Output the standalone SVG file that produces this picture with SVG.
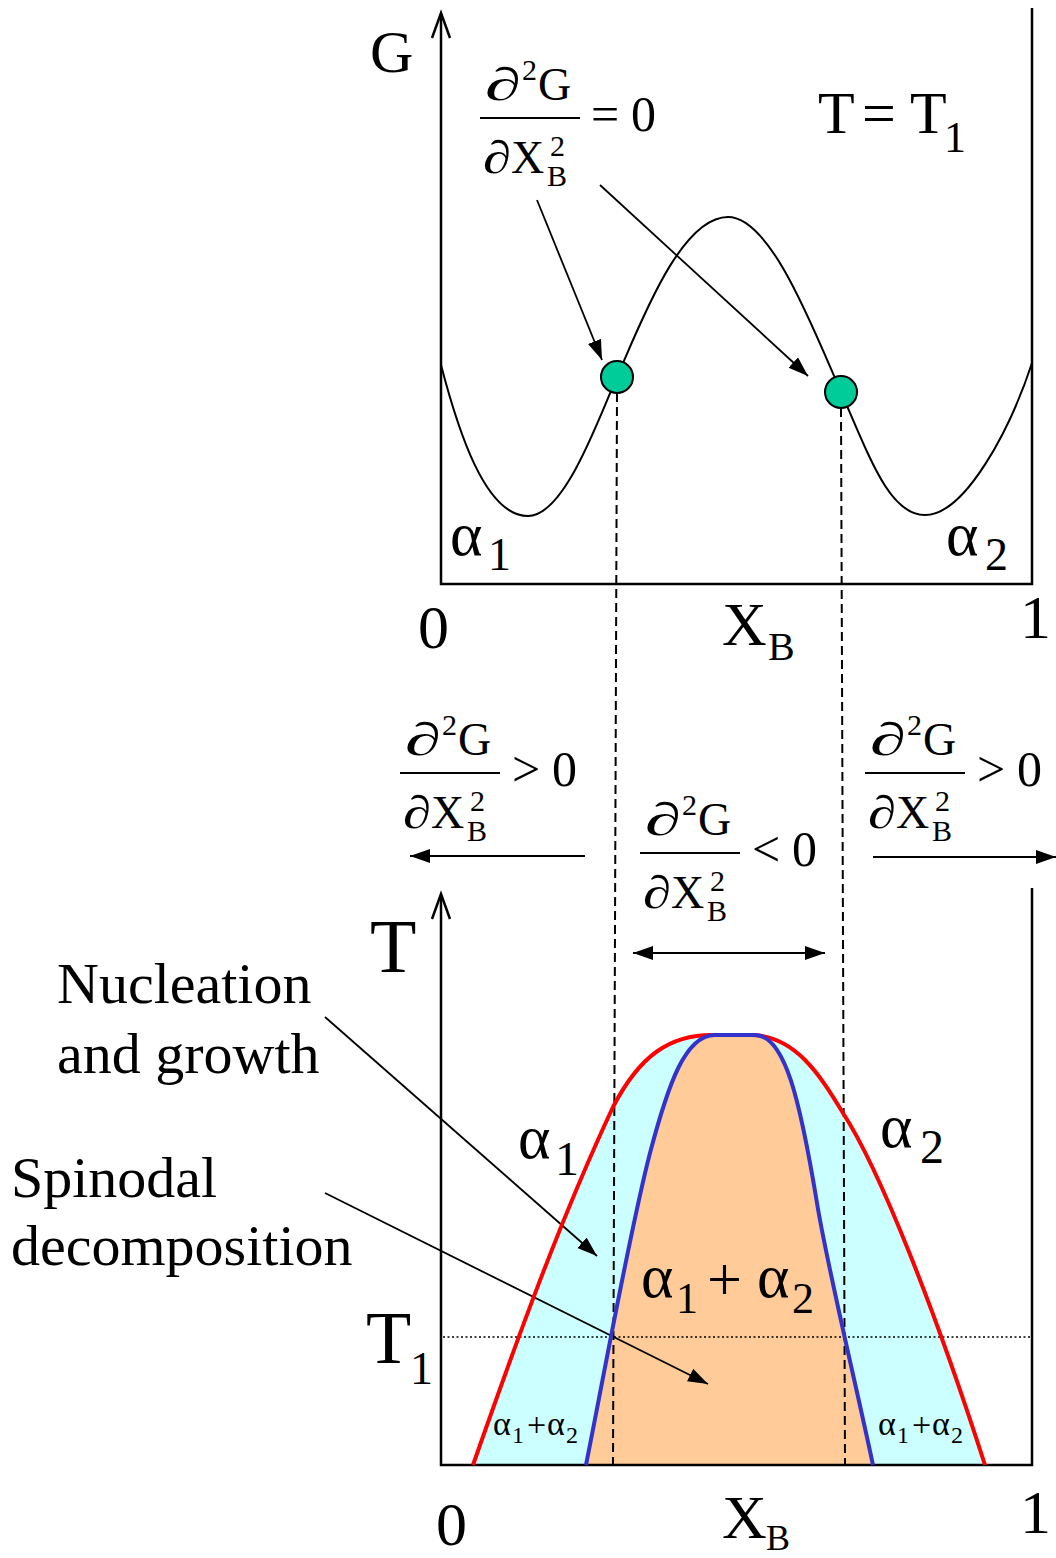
<svg xmlns="http://www.w3.org/2000/svg" width="1056" height="1558" viewBox="0 0 1056 1558">
<style>
.t{font-family:"Liberation Serif","Times New Roman",serif;fill:#000}
.ax{stroke:#000;stroke-width:2.5;fill:none}
.ln{stroke:#000;stroke-width:1.8;fill:none}
.dash{stroke:#000;stroke-width:2;stroke-dasharray:9,5;fill:none}
.f{font-size:46px}
.o{font-size:50px}
.s{font-size:30px}
</style>
<defs>
<marker id="ah" markerUnits="userSpaceOnUse" markerWidth="22" markerHeight="16" refX="20" refY="7" orient="auto-start-reverse">
<path d="M0,0 L20,7 L0,14 z" fill="#000"/>
</marker>
</defs>
<rect width="1056" height="1558" fill="#fff"/>

<!-- bottom plot fills -->
<g id="binodal-region">
<path d="M473,1465 C515,1345 560,1220 613,1107 C640,1055 670,1035 712,1035 L750,1035 C795,1035 820,1075 843,1113 C880,1170 935,1310 985,1465 Z" fill="#CCFFFF"/>
</g>
<g id="spinodal-region">
<path d="M586,1465 C605,1370 630,1230 650,1153 C668,1085 685,1035 715,1035 L755,1035 C785,1035 800,1100 817,1203 C827,1265 855,1380 873,1465 Z" fill="#FFCC99"/>
</g>

<!-- top plot axes -->
<g id="top-axes">
<path class="ax" d="M441,14 L441,584 L1032,584 L1032,8"/>
<path class="ax" d="M432,38 L441,13 L450,38"/>
</g>
<!-- bottom plot axes -->
<g id="bottom-axes">
<path class="ax" d="M441,895 L441,1465 L1032,1465 L1032,888"/>
<path class="ax" d="M432,919 L441,894 L450,919"/>
<line x1="443" y1="1337" x2="1030" y2="1337" stroke="#000" stroke-width="1.3" stroke-dasharray="2,2.5"/>
</g>

<g id="connectors">
<path class="dash" d="M617,393 L613,1465"/>
<path class="dash" d="M841,408 L845,1465"/>
<line class="ln" x1="537" y1="200" x2="602" y2="360" marker-end="url(#ah)"/>
<line class="ln" x1="600" y1="185" x2="808" y2="376" marker-end="url(#ah)"/>
<line class="ln" x1="585" y1="856" x2="410" y2="856" stroke-width="2" marker-end="url(#ah)"/>
<line class="ln" x1="873" y1="857" x2="1056" y2="857" stroke-width="2" marker-end="url(#ah)"/>
<line class="ln" x1="633" y1="953" x2="825" y2="953" stroke-width="2" marker-start="url(#ah)" marker-end="url(#ah)"/>
<line class="ln" x1="325" y1="1017" x2="597" y2="1256" marker-end="url(#ah)"/>
<line class="ln" x1="325" y1="1193" x2="708" y2="1384" marker-end="url(#ah)"/>
</g>

<!-- curves -->
<g id="G-curve">
<path d="M441,365 C458,430 485,516 528,516 C565,516 599,417 617,377 C640,325 680,217 728,217 C770,217 811,323 841,392 C871,461 890,515 925,515 C965,515 1010,430 1032,363" fill="none" stroke="#000" stroke-width="2"/>
</g>
<g id="binodal-curve">
<path d="M473,1465 C515,1345 560,1220 613,1107 C640,1055 670,1035 712,1035 L750,1035 C795,1035 820,1075 843,1113 C880,1170 935,1310 985,1465" fill="none" stroke="#FF0000" stroke-width="4"/>
</g>
<g id="spinodal-curve">
<path d="M586,1465 C605,1370 630,1230 650,1153 C668,1085 685,1035 715,1035 L755,1035 C785,1035 800,1100 817,1203 C827,1265 855,1380 873,1465" fill="none" stroke="#3333CC" stroke-width="4"/>
</g>

<g id="point-left"><circle cx="617" cy="377" r="16" fill="#00CC99" stroke="#000" stroke-width="2"/></g>
<g id="point-right"><circle cx="841" cy="392" r="16" fill="#00CC99" stroke="#000" stroke-width="2"/></g>

<!-- formulas -->
<g id="formula-zero" transform="translate(480,118)">
<text class="t f" x="5" y="-18" textLength="36" lengthAdjust="spacingAndGlyphs">∂</text><text class="t s" x="42" y="-38">2</text><text class="t f" x="58" y="-18">G</text>
<line x1="0" y1="0" x2="100" y2="0" stroke="#000" stroke-width="2"/>
<text class="t f" x="3" y="55" textLength="28" lengthAdjust="spacingAndGlyphs">∂</text><text class="t f" x="31" y="55">X</text><text class="t s" x="70" y="38">2</text><text class="t s" x="67" y="68">B</text>
<text class="t o" x="111" y="13">=</text><text class="t o" x="151" y="13">0</text>
</g>
<g id="formula-left" transform="translate(400,773)">
<text class="t f" x="5" y="-18" textLength="36" lengthAdjust="spacingAndGlyphs">∂</text><text class="t s" x="42" y="-38">2</text><text class="t f" x="58" y="-18">G</text>
<line x1="0" y1="0" x2="100" y2="0" stroke="#000" stroke-width="2"/>
<text class="t f" x="3" y="55" textLength="28" lengthAdjust="spacingAndGlyphs">∂</text><text class="t f" x="31" y="55">X</text><text class="t s" x="70" y="38">2</text><text class="t s" x="67" y="68">B</text>
<text class="t o" x="112" y="13">&gt;</text><text class="t o" x="152" y="13">0</text>
</g>
<g id="formula-right" transform="translate(865,773)">
<text class="t f" x="5" y="-18" textLength="36" lengthAdjust="spacingAndGlyphs">∂</text><text class="t s" x="42" y="-38">2</text><text class="t f" x="58" y="-18">G</text>
<line x1="0" y1="0" x2="100" y2="0" stroke="#000" stroke-width="2"/>
<text class="t f" x="3" y="55" textLength="28" lengthAdjust="spacingAndGlyphs">∂</text><text class="t f" x="31" y="55">X</text><text class="t s" x="70" y="38">2</text><text class="t s" x="67" y="68">B</text>
<text class="t o" x="112" y="13">&gt;</text><text class="t o" x="152" y="13">0</text>
</g>
<g id="formula-mid" transform="translate(640,853)">
<text class="t f" x="5" y="-18" textLength="36" lengthAdjust="spacingAndGlyphs">∂</text><text class="t s" x="42" y="-38">2</text><text class="t f" x="58" y="-18">G</text>
<line x1="0" y1="0" x2="100" y2="0" stroke="#000" stroke-width="2"/>
<text class="t f" x="3" y="55" textLength="28" lengthAdjust="spacingAndGlyphs">∂</text><text class="t f" x="31" y="55">X</text><text class="t s" x="70" y="38">2</text><text class="t s" x="67" y="68">B</text>
<text class="t o" x="112" y="13">&lt;</text><text class="t o" x="152" y="13">0</text>
</g>

<!-- top plot labels -->
<g id="top-labels">
<text class="t" x="370" y="72" font-size="60">G</text>
<text class="t" x="818" y="133" font-size="60">T</text>
<text class="t" x="862" y="133" font-size="60">=</text>
<text class="t" x="910" y="133" font-size="60">T</text>
<text class="t" x="944" y="152" font-size="44">1</text>
<text class="t" x="450" y="555" font-size="62">α</text><text class="t" x="488" y="570" font-size="46">1</text>
<text class="t" x="946" y="555" font-size="62">α</text><text class="t" x="985" y="570" font-size="46">2</text>
<text class="t" x="418" y="648" font-size="62">0</text>
<text class="t" x="722" y="645" font-size="62">X</text><text class="t" x="768" y="660" font-size="40">B</text>
<text class="t" x="1020" y="638" font-size="62">1</text>
</g>

<!-- bottom plot labels -->
<g id="bottom-labels">
<text class="t" x="370" y="972" font-size="76">T</text>
<text class="t" x="366" y="1363" font-size="74">T</text><text class="t" x="410" y="1384" font-size="46">1</text>
<text class="t" x="518" y="1158" font-size="62">α</text><text class="t" x="555" y="1175" font-size="48">1</text>
<text class="t" x="880" y="1147" font-size="62">α</text><text class="t" x="920" y="1163" font-size="48">2</text>
<text class="t" x="641" y="1297" font-size="62">α</text><text class="t" x="676" y="1313" font-size="44">1</text>
<text class="t" x="707" y="1300" font-size="62">+</text>
<text class="t" x="757" y="1297" font-size="62">α</text><text class="t" x="792" y="1313" font-size="44">2</text>
<text class="t" x="493" y="1435" font-size="34">α</text><text class="t" x="512" y="1443" font-size="24">1</text>
<text class="t" x="527" y="1436" font-size="34">+</text>
<text class="t" x="547" y="1435" font-size="34">α</text><text class="t" x="566" y="1443" font-size="24">2</text>
<text class="t" x="878" y="1435" font-size="34">α</text><text class="t" x="897" y="1443" font-size="24">1</text>
<text class="t" x="912" y="1436" font-size="34">+</text>
<text class="t" x="932" y="1435" font-size="34">α</text><text class="t" x="951" y="1443" font-size="24">2</text>
<text class="t" x="436" y="1545" font-size="62">0</text>
<text class="t" x="722" y="1538" font-size="62">X</text><text class="t" x="766" y="1550" font-size="36">B</text>
<text class="t" x="1020" y="1533" font-size="62">1</text>
</g>

<g id="nucleation-label">
<text class="t" x="57" y="1003" font-size="58">Nucleation</text>
<text class="t" x="57" y="1073" font-size="58">and growth</text>
</g>
<g id="spinodal-label">
<text class="t" x="11" y="1197" font-size="58">Spinodal</text>
<text class="t" x="11" y="1265" font-size="58">decomposition</text>
</g>
</svg>
